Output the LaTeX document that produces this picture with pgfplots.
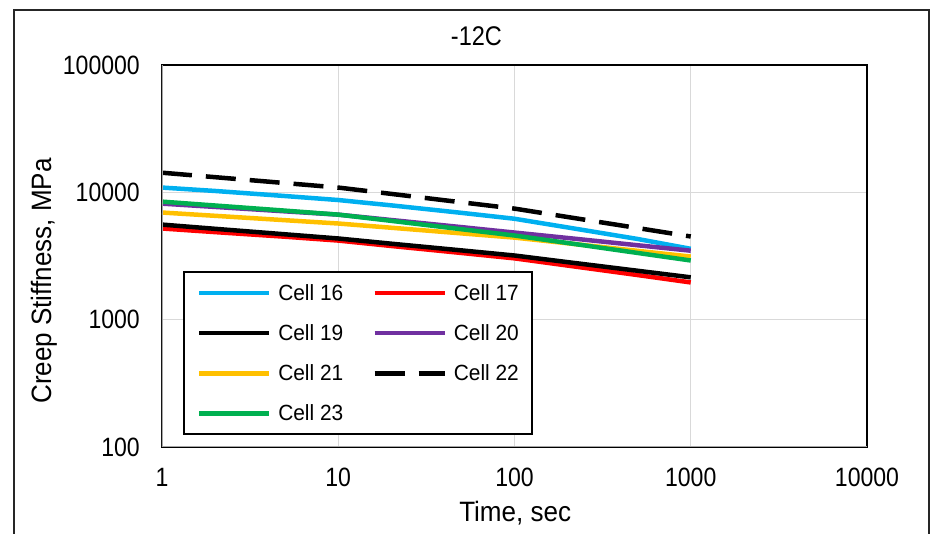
\documentclass[border=0pt]{standalone}
\usepackage{pgfplots}
\pgfplotsset{compat=1.18}
\usepackage{fontspec}
\setmainfont{Liberation Sans}
\newfontfamily\tickfont{Liberation Sans}[FakeStretch=0.87]
\newfontfamily\labfont{Liberation Sans}[FakeStretch=0.93]
\newfontfamily\legfont{Liberation Sans}[FakeStretch=0.95]
\definecolor{cA}{HTML}{00B0F0}
\definecolor{cB}{HTML}{FF0000}
\definecolor{cD}{HTML}{7030A0}
\definecolor{cE}{HTML}{FFC000}
\definecolor{cG}{HTML}{00B050}
\definecolor{gridc}{HTML}{D9D9D9}
\definecolor{axc}{HTML}{A6A6A6}
\begin{document}
\begin{tikzpicture}[x=1pt,y=1pt]
\path[use as bounding box] (0,0) rectangle (930,534);
\draw[line width=1.5pt, black!85] (14,-5) -- (14,524) -- (929,524) -- (929,-5);
\begin{axis}[
  at={(162pt,87pt)}, anchor=south west,
  scale only axis, width=705pt, height=382pt,
  xmode=log, ymode=log,
  xmin=1, xmax=10000, ymin=100, ymax=100000,
  xtick={1,10,100,1000,10000}, xticklabels={1,10,100,1000,10000},
  ytick={100,1000,10000,100000}, yticklabels={100,1000,10000,100000},
  xminorticks=false, yminorticks=false,
  major tick length=0pt,
  grid=major, major grid style={draw=gridc, line width=1.3pt},
  axis line style={line width=1.5pt, black},
  tick label style={font=\tickfont\fontsize{26.5}{30}\selectfont},
  xticklabel style={inner sep=0pt, yshift=-21pt, anchor=north},
  yticklabel style={inner sep=0pt, xshift=-22pt, anchor=east},
  title={-12C},
  title style={at={(0.446,1.06)}, anchor=center, font=\tickfont\fontsize{27}{31}\selectfont},
  xlabel={Time, sec},
  xlabel style={at={(0.501,-0.1728)}, anchor=center, font=\labfont\fontsize{28}{32}\selectfont},
  ylabel={Creep Stiffness, MPa},
  ylabel style={at={(-0.1676,0.4346)}, anchor=center, font=\labfont\fontsize{28}{32}\selectfont},
  legend columns=2, legend cell align=left,
  legend image code/.code={\draw[#1] (0pt,0pt) -- (70pt,0pt);},
  legend style={at={(0.0298,0.0314)}, anchor=south west, draw=black, line width=1.5pt,
    font=\legfont\fontsize{22}{26}\selectfont, inner xsep=13pt, inner ysep=12pt,
    nodes={inner sep=0pt},
    /tikz/every odd column/.append style={column sep=7pt},
    /tikz/every even column/.append style={column sep=29pt},
    row sep=22.8pt},
]
\addplot[cA, line width=4.5pt] coordinates {(1,10900) (2,10250) (5,9350) (10,8700) (20,7900) (50,6900) (100,6200) (200,5300) (500,4300) (1000,3600)};
\addlegendentry{Cell 16}
\addplot[cB, line width=4.5pt] coordinates {(1,5200) (2,4870) (5,4480) (10,4180) (20,3790) (50,3340) (100,3030) (200,2660) (500,2240) (1000,1960)};
\addlegendentry{Cell 17}
\addplot[black, line width=4.5pt] coordinates {(1,5580) (2,5170) (5,4680) (10,4340) (20,3950) (50,3500) (100,3190) (200,2830) (500,2420) (1000,2150)};
\addlegendentry{Cell 19}
\addplot[cD, line width=4.5pt] coordinates {(1,8150) (2,7680) (5,7090) (10,6680) (20,6060) (50,5330) (100,4830) (200,4380) (500,3840) (1000,3480)};
\addlegendentry{Cell 20}
\addplot[cE, line width=4.5pt] coordinates {(1,6940) (2,6540) (5,6040) (10,5690) (20,5270) (50,4760) (100,4410) (200,3980) (500,3470) (1000,3130)};
\addlegendentry{Cell 21}
\addplot[black, line width=4.5pt, dash pattern=on 30pt off 14pt] coordinates {(1,14260) (2,13150) (5,11820) (10,10900) (20,9720) (50,8350) (100,7450) (200,6400) (500,5240) (1000,4500)};
\addlegendentry{Cell 22}
\addplot[cG, line width=4.5pt] coordinates {(1,8450) (2,7880) (5,7180) (10,6680) (20,5970) (50,5130) (100,4580) (200,4000) (500,3340) (1000,2915)};
\addlegendentry{Cell 23}
\draw[line width=1.5pt, axc] (rel axis cs:0,0) -- (rel axis cs:0,1);
\draw[line width=1.5pt, axc] (rel axis cs:0,0) -- (rel axis cs:1,0);
\end{axis}
\end{tikzpicture}
\end{document}
